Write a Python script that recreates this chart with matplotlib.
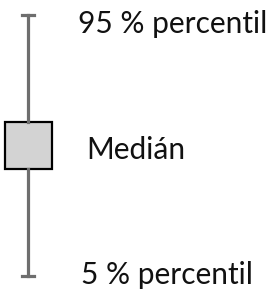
import matplotlib.pyplot as plt

# Box plot legend: whisker ends at 5 / 95 percentile, box around the median
stats = [{'whislo': 5, 'q1': 42, 'med': 50, 'q3': 58, 'whishi': 95}]
labels = ['95 % percentil', 'Medián', '5 % percentil']
label_values = [91.8, 48.6, 5.5]

plt.rcParams['font.family'] = ['Lato', 'DejaVu Sans']

fig = plt.figure(figsize=(2.71, 2.95), dpi=100)
ax = fig.add_axes([0, 0, 1, 1])

ax.bxp(stats, positions=[28], widths=47, capwidths=12, showfliers=False,
       patch_artist=True,
       boxprops=dict(facecolor='#d3d3d3', edgecolor='black', linewidth=1.6),
       whiskerprops=dict(color='#6e6e6e', linewidth=2.3),
       capprops=dict(color='#6e6e6e', linewidth=2.3),
       medianprops=dict(linewidth=0))

label_x = [78, 86, 81]
for x, y, t in zip(label_x, label_values, labels):
    ax.text(x, y, t, fontsize=21.5, color='#111111', va='center', ha='left')

ax.set_xlim(0, 271)
ax.set_ylim(-1.55, 100.2)
ax.axis('off')

fig.savefig('out.png', dpi=100)
